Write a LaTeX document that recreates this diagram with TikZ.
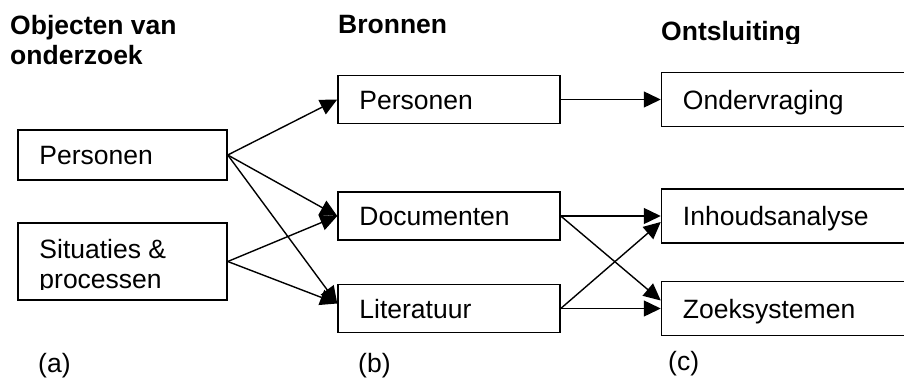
\documentclass[tikz,border=0pt]{standalone}
\usepackage{fontspec}
\setmainfont{Liberation Sans}
\usetikzlibrary{positioning,arrows.meta}

\begin{document}
\begin{tikzpicture}[x=1pt,y=-1pt]
  \tikzstyle{box}=[
    draw, rectangle,
    line width=1.5pt,
    inner sep=0pt
  ]
  \tikzstyle{abox}=[box,
    minimum width=209pt,
    minimum height=50pt
  ]
  \tikzstyle{bbox}=[box,
    minimum width=222pt,
    minimum height=48pt
  ]
  \tikzstyle{cbox}=[box,
    minimum width=260pt,
    minimum height=54pt
  ]
  \tikzstyle{lbl}=[anchor=west, inner sep=0pt,
    text height=19pt, text depth=0pt,
    font=\fontsize{26.5}{30}\selectfont
  ]
  \tikzstyle{head}=[anchor=base west, inner sep=0pt, align=left,
    font=\fontsize{26.5}{30}\selectfont\bfseries
  ]
  \tikzstyle{pijl}=[line width=1.4pt, -{Triangle[length=17pt,width=16pt]}]

  \clip (0,0) rectangle (904,383);

  \node[abox] (obj pers) at (122.5,155) {};
  \node[abox, minimum height=77pt] (obj sit) at (122.5,261.5) {};
  \node[bbox] (bron pers) at (449,99.5) {};
  \node[bbox] (bron doc) at (449,216) {};
  \node[bbox] (bron lit) at (449,308.5) {};
  \node[cbox, right=100pt of bron pers] (ont vraag) {};
  \node[cbox, right=100pt of bron doc] (ont inhoud) {};
  \node[cbox, right=100pt of bron lit] (ont zoek) {};

  \node[lbl] (obj pers t) at ([xshift=22pt]obj pers.west) {Personen};
  \begin{scope}
    \clip (18,223) rectangle (227,289.5);
    \node[lbl, anchor=base west, text height=, text depth=, align=left] (obj sit t)
      at ([xshift=22pt,yshift=-26.5pt]obj sit.west) {Situaties \&\\processen};
  \end{scope}
  \node[lbl] (bron pers t) at ([xshift=22pt]bron pers.west) {Personen};
  \node[lbl] (bron doc t) at ([xshift=22pt]bron doc.west) {Documenten};
  \node[lbl] (bron lit t) at ([xshift=22pt]bron lit.west) {Literatuur};
  \node[lbl] (ont vraag t) at ([xshift=22pt]ont vraag.west) {Ondervraging};
  \node[lbl] (ont inhoud t) at ([xshift=22pt]ont inhoud.west) {Inhoudsanalyse};
  \node[lbl] (ont zoek t) at ([xshift=22pt]ont zoek.west) {Zoeksystemen};

  % kolomkoppen
  \node[head] (kop obj) at (10,64) {Objecten van\\onderzoek};
  \node[head] (kop bron) at (338,33) {Bronnen};
  \begin{scope}
    \clip (640,0) rectangle (904,43);
    \node[head] (kop ont) at (661,40) {Ontsluiting};
  \end{scope}

  \node[lbl, anchor=base west, text height=, text depth=] (lab a) at (38,372) {(a)};
  \node[lbl, anchor=base west, text height=, text depth=] (lab b) at (358,372) {(b)};
  \node[lbl, anchor=base west, text height=, text depth=] (lab c) at (668,370) {(c)};

  \draw[pijl] (obj pers.east) -- (bron pers.west);
  \draw[pijl] (obj pers.east) -- (bron doc.west);
  \draw[pijl] (obj pers.east) -- ([yshift=5pt]bron lit.west);
  \draw[pijl] (obj sit.east) -- (bron doc.west);
  \draw[pijl] (obj sit.east) -- ([yshift=5pt]bron lit.west);
  \draw[pijl] (bron pers.east) -- (ont vraag.west);
  \draw[pijl] (bron doc.east) -- (ont inhoud.west);
  \draw[pijl] (bron doc.east) -- ([yshift=8pt]ont zoek.west);
  \draw[pijl] (bron lit.east) -- (ont zoek.west);
  \draw[pijl] (bron lit.east) -- ([yshift=-6pt]ont inhoud.west);

\end{tikzpicture}
\end{document}
